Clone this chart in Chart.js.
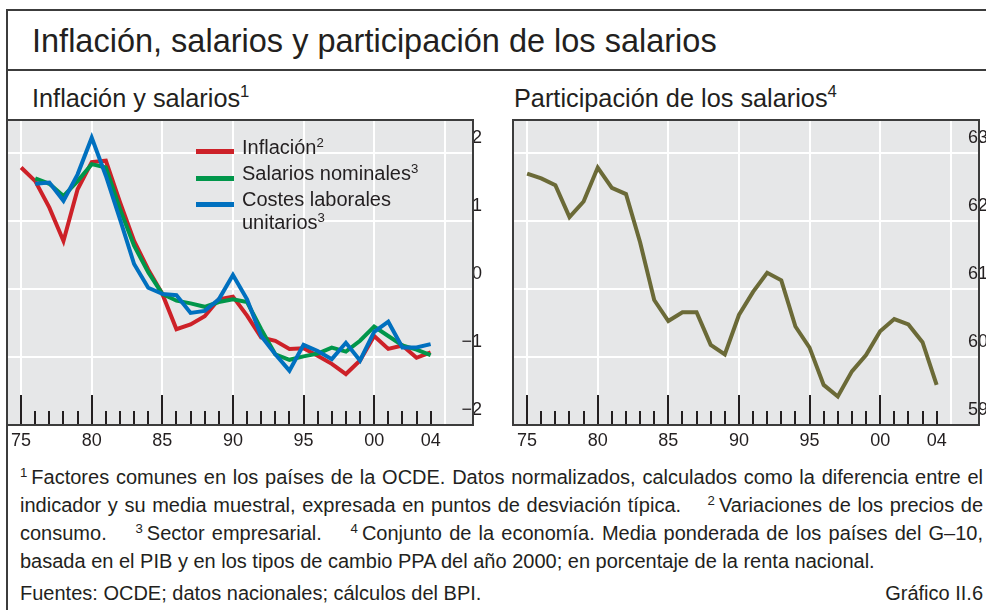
<!DOCTYPE html>
<html>
<head>
<meta charset="utf-8">
<script src="https://cdn.jsdelivr.net/npm/chart.js@4.4.1/dist/chart.umd.min.js"></script>
<style>
  body { margin: 0; width: 986px; height: 610px; overflow: hidden; background: #fff; position: relative;
         font-family: "Liberation Sans", Arial, sans-serif; color: #231f20; }
  .abs { position: absolute; white-space: nowrap; }
  .rule { position: absolute; background: #3c3c3c; }
  .sup { font-size: 0.66em; position: relative; top: -0.55em; }
  .title { left: 32px; top: 24.5px; font-size: 32.5px; line-height: 32.5px; }
  .sub { font-size: 25.3px; line-height: 25px; top: 85.5px; }
  .key { position: absolute; left: 196px; width: 38px; height: 5px; }
  .keytxt { left: 242px; font-size: 20px; line-height: 20px; }
  .note { left: 20px; width: 963px; font-size: 20px; line-height: 20px; white-space: nowrap; }
  .just { text-align: justify; text-align-last: justify; white-space: normal; }
  canvas { position: absolute; }
</style>
</head>
<body>
  <div class="rule" style="left:6px;top:9px;width:990px;height:2px"></div>
  <div class="rule" style="left:6px;top:69px;width:990px;height:2px"></div>
  <div class="rule" style="left:6px;top:9px;width:2px;height:610px"></div>

  <div class="abs title">Inflación, salarios y participación de los salarios</div>
  <div class="abs sub" style="left:32px">Inflación y salarios<span class="sup">1</span></div>
  <div class="abs sub" style="left:514px">Participación de los salarios<span class="sup">4</span></div>

  <canvas id="chartLeft" width="486" height="337" style="left:6px;top:119px"></canvas>
  <canvas id="chartRight" width="486" height="337" style="left:512px;top:119px"></canvas>

  <div class="key" style="top:148.5px;background:#cd2128"></div>
  <div class="key" style="top:175.5px;background:#00964a"></div>
  <div class="key" style="top:201.5px;background:#0070bf"></div>
  <div class="abs keytxt" style="top:137px">Inflación<span class="sup">2</span></div>
  <div class="abs keytxt" style="top:163px">Salarios nominales<span class="sup">3</span></div>
  <div class="abs keytxt" style="top:189px">Costes laborales</div>
  <div class="abs keytxt" style="top:212px">unitarios<span class="sup">3</span></div>

  <div class="abs note just" style="top:467px"><span class="sup">1</span>&#8201;Factores comunes en los países de la OCDE. Datos normalizados, calculados como la diferencia entre el</div>
  <div class="abs note just" style="top:495px">indicador y su media muestral, expresada en puntos de desviación típica.&nbsp;&nbsp;&nbsp; <span class="sup">2</span>&#8201;Variaciones de los precios de</div>
  <div class="abs note just" style="top:523px">consumo.&nbsp;&nbsp;&nbsp; <span class="sup">3</span>&#8201;Sector empresarial.&nbsp;&nbsp;&nbsp; <span class="sup">4</span>&#8201;Conjunto de la economía. Media ponderada de los países del G–10,</div>
  <div class="abs note" style="top:551px">basada en el PIB y en los tipos de cambio PPA del año 2000; en porcentaje de la renta nacional.</div>
  <div class="abs note" style="top:583px">Fuentes: OCDE; datos nacionales; cálculos del BPI.</div>
  <div class="abs note" style="top:583px;text-align:right">Gráfico II.6</div>

<script>
// years on the x axis
const years = [1975, 1976, 1977, 1978, 1979, 1980, 1981, 1982, 1983, 1984,
               1985, 1986, 1987, 1988, 1989, 1990, 1991, 1992, 1993, 1994,
               1995, 1996, 1997, 1998, 1999, 2000, 2001, 2002, 2003, 2004];

// left panel: normalized common factors (std. dev. points)
const inflacion = [1.79, 1.59, 1.20, 0.71, 1.47, 1.87, 1.89, 1.28, 0.71, 0.29,
                   -0.07, -0.59, -0.52, -0.40, -0.15, -0.11, -0.39, -0.71, -0.76, -0.88,
                   -0.87, -0.98, -1.10, -1.25, -1.05, -0.69, -0.88, -0.83, -1.01, -0.93];
const salariosNominales = [null, 1.63, 1.55, 1.37, 1.59, 1.84, 1.79, 1.18, 0.64, 0.25,
                   -0.07, -0.17, -0.21, -0.26, -0.19, -0.15, -0.19, -0.59, -0.96, -1.04,
                   -0.99, -0.95, -0.86, -0.92, -0.76, -0.55, -0.69, -0.83, -0.89, -0.97];
const costesLaborales = [null, 1.55, 1.57, 1.30, 1.69, 2.23, 1.67, 1.03, 0.37, 0.02,
                   -0.07, -0.09, -0.35, -0.32, -0.15, 0.21, -0.15, -0.69, -0.96, -1.20,
                   -0.82, -0.91, -1.03, -0.79, -1.05, -0.63, -0.48, -0.86, -0.86, -0.81];

// right panel: wage share, % of national income
const participacion = [62.70, 62.63, 62.53, 62.06, 62.29, 62.79, 62.49, 62.40, 61.69, 60.84,
                   60.53, 60.66, 60.66, 60.18, 60.04, 60.62, 60.96, 61.24, 61.13, 60.45,
                   60.14, 59.59, 59.42, 59.79, 60.03, 60.38, 60.56, 60.48, 60.22, 59.59];

// axis ticks
const gridYears = [1975, 1980, 1985, 1990, 1995, 2000, 2005];
const labelYears = [1975, 1980, 1985, 1990, 1995, 2000, 2004];
const yearLabels = ['75', '80', '85', '90', '95', '00', '04'];
const leftTicks = [-2, -1, 0, 1, 2];
const rightTicks = [59, 60, 61, 62, 63];

const ink = '#231f20';
const axisFont = { family: '"Liberation Sans", Arial, sans-serif', size: 18 };

// grey plot background, dark frame and the year tick marks at the bottom
const panelPlugin = {
  id: 'panel',
  beforeDraw(chart) {
    const { ctx, chartArea: a } = chart;
    ctx.save();
    ctx.fillStyle = '#e6e7e8';
    ctx.fillRect(a.left, a.top, a.right - a.left, a.bottom - a.top);
    ctx.restore();
  },
  beforeDatasetsDraw(chart) {
    const { ctx, chartArea: a, scales } = chart;
    ctx.save();
    ctx.strokeStyle = ink;
    ctx.lineWidth = 2;
    years.forEach(yr => {
      const x = Math.round(scales.x.getPixelForValue(yr));
      const len = gridYears.includes(yr) ? 30 : 14;
      ctx.beginPath();
      ctx.moveTo(x, a.bottom);
      ctx.lineTo(x, a.bottom - len);
      ctx.stroke();
    });
    ctx.restore();
  },
  afterDraw(chart) {
    const { ctx, chartArea: a } = chart;
    ctx.save();
    ctx.strokeStyle = '#3c3c3c';
    ctx.lineWidth = 2;
    ctx.strokeRect(a.left, a.top, a.right - a.left, a.bottom - a.top);
    ctx.restore();
  }
};

function xy(values) {
  return values.map((v, i) => ({ x: years[i], y: v }));
}

function lineSet(values, color) {
  return {
    data: xy(values),
    borderColor: color,
    borderWidth: 4,
    pointRadius: 0,
    tension: 0,
    borderJoinStyle: 'miter',
    spanGaps: false
  };
}

function makeOptions(yMin, yMax, yTicks) {
  return {
    responsive: false,
    animation: false,
    devicePixelRatio: 1,
    layout: { padding: { left: 1, top: 1, right: 1, bottom: 0 } },
    plugins: { legend: { display: false }, tooltip: { enabled: false } },
    scales: {
      x: {
        type: 'linear',
        min: 1974,
        max: 2007,
        afterBuildTicks: s => { s.ticks = years.concat([2005]).map(v => ({ value: v })); },
        afterFit: s => { s.height = 31; s.paddingLeft = 0; s.paddingRight = 0; },
        grid: {
          drawTicks: false,
          lineWidth: 2,
          color: c => gridYears.includes(c.tick && c.tick.value) ? '#ffffff' : 'rgba(0,0,0,0)'
        },
        border: { display: false },
        ticks: {
          autoSkip: false,
          maxRotation: 0,
          padding: 5,
          color: ink,
          font: axisFont,
          callback: v => {
            const i = labelYears.indexOf(v);
            return i >= 0 ? yearLabels[i] : '';
          }
        }
      },
      y: {
        position: 'right',
        min: yMin,
        max: yMax,
        afterBuildTicks: s => { s.ticks = yTicks.map(v => ({ value: v })); },
        afterFit: s => { s.paddingTop = 0; s.paddingBottom = 0; },
        grid: { drawTicks: false, lineWidth: 2, color: '#ffffff' },
        border: { display: false },
        ticks: {
          mirror: true,
          padding: 9,
          labelOffset: -15,
          color: ink,
          font: axisFont,
          callback: v => String(v).replace('-', '\u2212')
        }
      }
    }
  };
}

new Chart(document.getElementById('chartLeft'), {
  type: 'line',
  data: {
    datasets: [
      lineSet(costesLaborales, '#0070bf'),
      lineSet(salariosNominales, '#00964a'),
      lineSet(inflacion, '#cd2128')
    ]
  },
  options: makeOptions(-2, 2.49, leftTicks),
  plugins: [panelPlugin]
});

new Chart(document.getElementById('chartRight'), {
  type: 'line',
  data: { datasets: [lineSet(participacion, '#6b6a37')] },
  options: makeOptions(59, 63.49, rightTicks),
  plugins: [panelPlugin]
});
</script>
</body>
</html>
